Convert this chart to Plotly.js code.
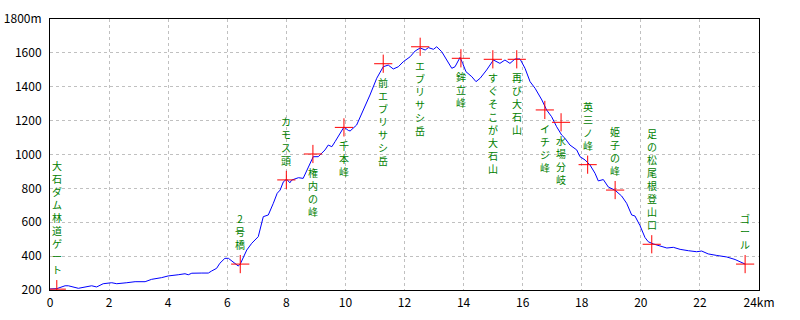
<!DOCTYPE html>
<html>
<head>
<meta charset="utf-8">
<script src="https://cdn.plot.ly/plotly-3.0.1.min.js"></script>
<style>html,body{margin:0;padding:0;background:#fff;}#chart{width:800px;height:320px;}</style>
</head>
<body>
<div id="chart"></div>
<script>
// Elevation profile (distance km, elevation m)
const profileKm = [0.00,0.23,0.51,0.62,0.96,1.18,1.41,1.58,1.80,2.09,2.26,2.60,2.88,3.22,3.44,3.78,4.00,4.34,4.57,4.68,4.80,5.14,5.36,5.47,5.64,5.75,5.92,6.04,6.21,6.37,6.44,6.53,6.66,6.83,7.05,7.22,7.39,7.56,7.69,7.79,7.90,8.01,8.12,8.18,8.41,8.57,8.74,8.91,9.08,9.31,9.42,9.54,9.65,9.82,9.95,10.10,10.16,10.38,10.61,10.83,11.06,11.28,11.45,11.62,11.79,11.96,12.19,12.36,12.53,12.70,12.81,12.98,13.09,13.26,13.43,13.60,13.71,13.88,13.97,14.08,14.28,14.42,14.56,14.78,15.01,15.23,15.40,15.57,15.74,15.91,16.08,16.25,16.42,16.65,16.81,16.98,17.15,17.32,17.43,17.60,17.83,17.94,18.11,18.28,18.45,18.56,18.73,18.90,19.12,19.35,19.52,19.69,19.80,19.97,20.14,20.25,20.42,20.65,20.88,21.10,21.33,21.61,21.89,22.06,22.28,22.57,22.91,23.19,23.36,23.53];
const profileElev = [206,208,225,225,210,218,225,218,237,243,237,243,249,249,263,273,283,290,296,290,299,300,300,312,328,358,387,387,361,342,353,389,436,476,515,633,643,712,771,790,839,854,833,849,863,859,919,987,987,1027,1056,1046,1076,1125,1162,1142,1139,1174,1263,1351,1450,1518,1528,1505,1518,1548,1577,1611,1629,1617,1631,1621,1636,1607,1558,1509,1518,1573,1538,1489,1459,1430,1450,1499,1558,1538,1558,1538,1564,1564,1509,1430,1391,1322,1263,1223,1164,1115,1096,1056,1027,987,968,938,889,844,852,808,790,755,712,643,637,581,510,485,472,460,448,452,440,432,426,430,413,404,395,380,365,353];

// Waypoints
const waypointKm   = [0.23, 6.44, 8.00, 8.90, 9.95, 11.28, 12.53, 13.91, 14.99, 15.80, 16.75, 17.30, 18.20, 19.13, 20.37, 23.53];
const waypointElev = [205, 353, 850, 1003, 1160, 1536, 1636, 1568, 1562, 1562, 1263, 1190, 940, 790, 470, 353];
const waypointNames = ["大石ダム林道ゲート","2号橋","カモス頭","権内の峰","千本峰","前エブリサシ岳","エブリサシ岳","鉾立峰","すぐそこが大石山","再び大石山","イチジ峰","水場分岐","英三ノ峰","姫子の峰","足の松尾根登山口","ゴール"];
const waypointLabelSide = ["above","above","above","below","below","below","below","below","below","below","below","below","above","above","above","above"];

// Axis ticks
const xTickVals = [0,2,4,6,8,10,12,14,16,18,20,22,24];
const xTickText = ["0","2","4","6","8","10","12","14","16","18","20","22","24km"];
const yTickVals = [200,400,600,800,1000,1200,1400,1600,1800];
const yTickText = ["200","400","600","800","1000","1200","1400","1600","1800m"];

const labelFont = {family: "Noto Sans CJK JP", size: 10, color: "#008000"};
const annotations = waypointNames.map((name, i) => {
  const above = waypointLabelSide[i] === "above";
  return {
    x: waypointKm[i], y: waypointElev[i], xref: "x", yref: "y",
    text: Array.from(name).join("<br>"),
    showarrow: false, xanchor: "center",
    yanchor: above ? "bottom" : "top",
    yshift: above ? 11 : -10,
    borderpad: 0,
    font: labelFont
  };
});

const traces = [
  {x: profileKm, y: profileElev, type: "scatter", mode: "lines",
   line: {color: "#0000ff", width: 1, shape: "linear"}, hoverinfo: "skip"},
  {x: waypointKm, y: waypointElev, type: "scatter", mode: "markers",
   marker: {symbol: "cross-thin", size: 13, line: {color: "#ff0000", width: 1}, color: "#ff0000"},
   hoverinfo: "skip"}
];

const tickFont = {family: "Liberation Sans Narrow, Arial Narrow, Noto Sans CJK JP", size: 12, color: "#000"};
const layout = {
  width: 800, height: 320,
  margin: {l: 50, r: 41, t: 19, b: 30, pad: 0},
  paper_bgcolor: "#fff", plot_bgcolor: "#fff",
  showlegend: false,
  font: {family: "Noto Sans CJK JP"},
  xaxis: {
    range: [0, 24], tickvals: xTickVals, ticktext: xTickText, tickfont: tickFont,
    showgrid: true, gridcolor: "#c0c0c0", griddash: "3px,3px", gridwidth: 1,
    showline: true, linecolor: "#000", linewidth: 1, mirror: true,
    zeroline: false, ticks: "", ticklabelstandoff: 2, fixedrange: true
  },
  yaxis: {
    range: [200, 1800], tickvals: yTickVals, ticktext: yTickText, tickfont: tickFont,
    showgrid: true, gridcolor: "#c0c0c0", griddash: "3px,3px", gridwidth: 1,
    showline: true, linecolor: "#000", linewidth: 1, mirror: true,
    zeroline: false, ticks: "", ticklabelstandoff: 5, fixedrange: true
  },
  annotations: annotations
};

Plotly.newPlot("chart", traces, layout, {staticPlot: true, displayModeBar: false});
</script>
</body>
</html>
